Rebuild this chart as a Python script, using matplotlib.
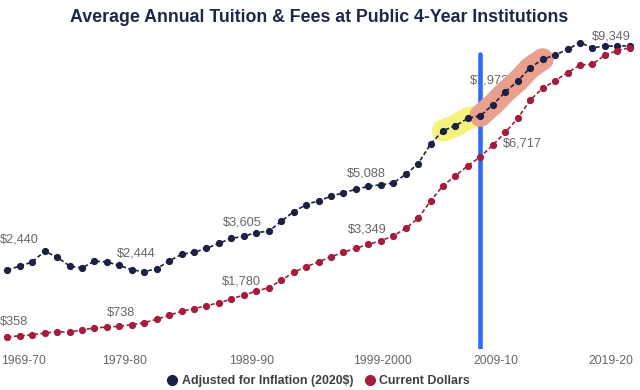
import matplotlib
matplotlib.use("Agg")
import matplotlib.pyplot as plt
from matplotlib.lines import Line2D

plt.rcParams['font.family'] = ['Liberation Sans', 'DejaVu Sans']

# academic years 1969-70 ... 2019-20
years = list(range(1969, 2020))
tick_labels = ["1969-70", "1979-80", "1989-90", "1999-2000", "2009-10", "2019-20"]

# average tuition & fees, 2020 dollars
adjusted = [2440, 2564, 2688, 3020, 2843, 2564, 2502, 2719, 2688, 2585,
            2444, 2387, 2480, 2719, 2927, 2989, 3114, 3269, 3425, 3487,
            3605, 3642, 3953, 4251, 4469, 4593, 4730, 4842, 4947, 5040,
            5088, 5142, 5413, 5743, 6355, 6768, 6924, 7153, 7234, 7576,
            7972, 8313, 8726, 8987, 9120, 9298, 9503, 9347, 9400, 9400,
            9400]

# current dollars
current = [358, 395, 425, 480, 520, 510, 580, 640, 665, 690,
           738, 805, 907, 1032, 1156, 1237, 1330, 1423, 1538, 1663,
           1780, 1890, 2119, 2368, 2542, 2688, 2853, 2990, 3114, 3238,
           3349, 3496, 3735, 4046, 4584, 5060, 5370, 5681, 5960, 6324,
           6717, 7153, 7722, 8086, 8322, 8571, 8810, 8832, 9120, 9254,
           9349]

navy = "#1c2142"
crimson = "#a51d3c"
gray = "#666666"

x = list(range(len(years)))

fig = plt.figure(figsize=(6.4, 3.9), dpi=100)
ax = fig.add_axes([0, 0.1064, 1, 0.791])

# highlights on the adjusted series
ax.plot(x[35:39], adjusted[35:39], color="#f6f27e", lw=16, solid_capstyle="round", zorder=2)
ax.plot(x[38:44], adjusted[38:44], color="#e9a08f", lw=16, solid_capstyle="round", zorder=3.5)

# vertical marker at 2007-08
ax.plot([x[38], x[38]], [0, 9150], color="#2f6cf5", lw=3.3, solid_capstyle="round", zorder=3)

ax.plot(x, adjusted, color=navy, lw=1.2, dashes=(2.5, 1.5), marker="o", ms=4.2, zorder=5)
ax.plot(x, current, color=crimson, lw=1.2, dashes=(2.5, 1.5), marker="o", ms=4.2, zorder=5)

# value labels: (index, series, offset in pixels)
labels = [
    (0, adjusted, (12, 30)), (10, adjusted, (4, 16)), (20, adjusted, (-14, 10)),
    (30, adjusted, (-14, 11)), (40, adjusted, (-16, 11)), (50, adjusted, (-18, 10)),
    (0, current, (7, 15)), (10, current, (-11, 12)), (20, current, (-15, 10)),
    (30, current, (-14, 11)), (40, current, (17, -11)),
]
for i, series, off in labels:
    val = current[50] if (series is adjusted and i == 50) else series[i]
    ax.annotate(f"${val:,}", (x[i], series[i]), xytext=off, textcoords="offset pixels",
                ha="center", va="center", fontsize=9.2, color=gray, zorder=2.5)

ax.set_xlim(-0.586, 50.82)
ax.set_ylim(0, 9587)
ax.set_xticks([1.3, 9.45, 19.6, 30.1, 39.25, 48.5])
ax.set_xticklabels(tick_labels, fontsize=8.8, color=gray)
ax.tick_params(axis="x", length=0, pad=5)
ax.set_yticks([])
for s in ax.spines.values():
    s.set_visible(False)

fig.text(0.498, 1 - 18 / 390, "Average Annual Tuition & Fees at Public 4-Year Institutions",
         ha="center", va="center", fontsize=12.8, fontweight="bold", color="#1f2747")

handles = [Line2D([], [], ls="none", marker="o", ms=7, color=navy),
           Line2D([], [], ls="none", marker="o", ms=7, color=crimson)]
fig.legend(handles, ["Adjusted for Inflation (2020$)", "Current Dollars"],
           loc="center", bbox_to_anchor=(0.497, 1 - 381 / 390), ncol=2, frameon=False,
           prop={"weight": "bold", "size": 8.9}, labelcolor="#404040",
           handletextpad=0.3, columnspacing=0.8, handlelength=1.0)

fig.savefig("out.png", dpi=100)
